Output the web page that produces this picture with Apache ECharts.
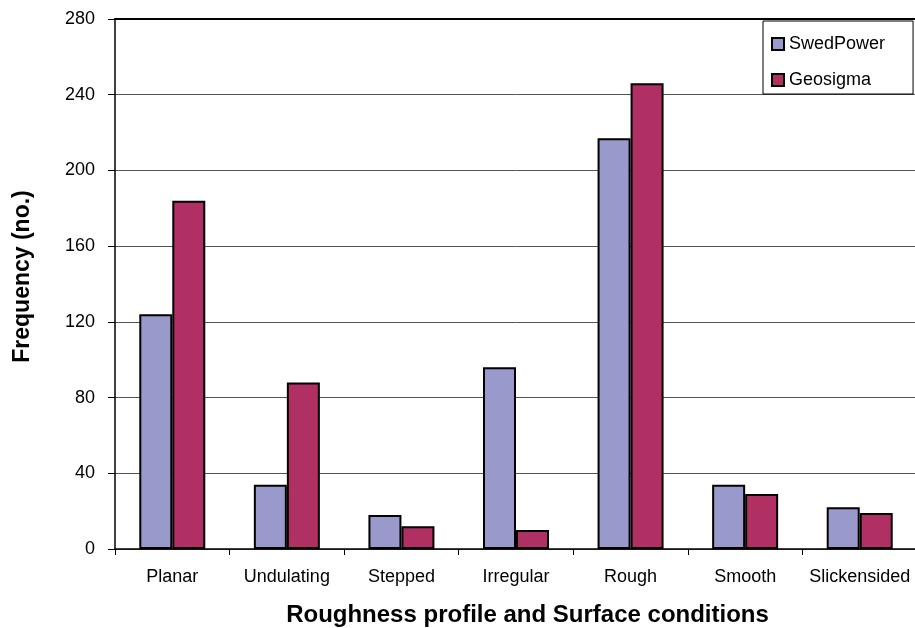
<!DOCTYPE html>
<html>
<head>
<meta charset="utf-8">
<script src="https://cdn.jsdelivr.net/npm/echarts@6/dist/echarts.min.js"></script>
<style>
  html, body { margin: 0; padding: 0; background: #fff; }
  #chart { width: 915px; height: 628px; }
</style>
</head>
<body>
<div id="chart"></div>
<script>
// Joint roughness counts per surface category, two mapping campaigns
const categories = ['Planar', 'Undulating', 'Stepped', 'Irregular', 'Rough', 'Smooth', 'Slickensided'];
const swedPower = [124, 34, 18, 96, 217, 34, 22];
const geosigma = [184, 88, 12, 10, 246, 29, 19];
const yTicks = { min: 0, max: 280, interval: 40 };

const FONT = 'Liberation Sans, Arial, sans-serif';
const chart = echarts.init(document.getElementById('chart'), null, { renderer: 'canvas' });

chart.setOption({
  animation: false,
  backgroundColor: '#ffffff',
  textStyle: { fontFamily: FONT },
  grid: { left: 115, top: 19, width: 802, height: 530, containLabel: false, outerBoundsMode: 'none' },
  legend: {
    orient: 'vertical',
    left: 763,
    top: 21,
    padding: [14, 28, 5, 8],
    itemGap: 18,
    itemWidth: 12,
    itemHeight: 12,
    icon: 'rect',
    backgroundColor: '#ffffff',
    borderColor: '#000000',
    borderWidth: 1,
    textStyle: { fontFamily: FONT, fontSize: 18, color: '#000' },
    itemStyle: { borderColor: '#000', borderWidth: 2 },
    data: ['SwedPower', 'Geosigma']
  },
  xAxis: [{
    type: 'category',
    data: categories,
    position: 'bottom',
    axisLine: { lineStyle: { color: '#000', width: 1.5 } },
    axisTick: { show: true, length: 6, interval: 0, inside: false, lineStyle: { color: '#000', width: 1 } },
    axisLabel: { fontFamily: FONT, fontSize: 18, color: '#000', margin: 19, interval: 0 },
    name: 'Roughness profile and Surface conditions',
    nameLocation: 'middle',
    nameGap: 54,
    nameTextStyle: { fontFamily: FONT, fontSize: 24, fontWeight: 'bold', color: '#000', padding: [0, 0, 0, 23] }
  }, {
    type: 'category',
    data: categories,
    position: 'top',
    axisLine: { lineStyle: { color: '#000', width: 2 } },
    axisTick: { show: false },
    axisLabel: { show: false }
  }],
  yAxis: {
    type: 'value',
    min: yTicks.min,
    max: yTicks.max,
    interval: yTicks.interval,
    axisLine: { show: true, lineStyle: { color: '#000', width: 1.5 } },
    axisTick: { show: true, length: 7, lineStyle: { color: '#000', width: 1 } },
    axisLabel: { fontFamily: FONT, fontSize: 18, color: '#000', margin: 20 },
    splitLine: { show: true, lineStyle: { color: '#555', width: 1 } },
    name: 'Frequency (no.)',
    nameLocation: 'middle',
    nameGap: 81,
    nameRotate: 90,
    nameTextStyle: { fontFamily: FONT, fontSize: 23, fontWeight: 'bold', color: '#000', padding: [0, 0, 0, 15] }
  },
  series: [{
    name: 'SwedPower',
    type: 'bar',
    data: swedPower,
    barWidth: 33,
    barGap: '0%',
    itemStyle: { color: '#9999CC', borderColor: '#000', borderWidth: 2 }
  }, {
    name: 'Geosigma',
    type: 'bar',
    data: geosigma,
    barWidth: 33,
    barGap: '0%',
    itemStyle: { color: '#B03063', borderColor: '#000', borderWidth: 2 }
  }]
});
</script>
</body>
</html>
